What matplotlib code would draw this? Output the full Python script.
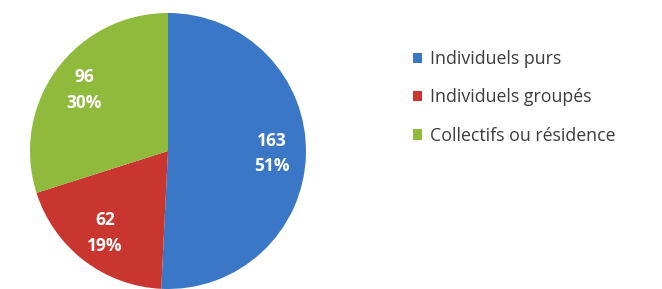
import matplotlib.pyplot as plt

categories = ["Individuels purs", "Individuels groupés", "Collectifs ou résidence"]
values = [163, 62, 96]
colors = ["#3a77c6", "#c9352f", "#8fba3c"]

plt.rcParams['font.family'] = ['Open Sans', 'DejaVu Sans']

W, H = 662, 289
fig = plt.figure(figsize=(W / 100, H / 100), dpi=100)
cx, cy, r = 168, 151, 138
ax = fig.add_axes([(cx - r) / W, (H - cy - r) / H, 2 * r / W, 2 * r / H])

total = sum(values)


def fmt(pct):
    return "%d\n%d%%" % (round(pct * total / 100), round(pct))


wedges, texts, autotexts = ax.pie(values, colors=colors, startangle=90, counterclock=False,
                                  autopct=fmt, pctdistance=0.75, radius=1,
                                  wedgeprops=dict(linewidth=0),
                                  textprops=dict(color="white", fontsize=12.5, fontweight="bold"))
for t in autotexts:
    t.set_linespacing(1.55)
ax.set_xlim(-1, 1)
ax.set_ylim(-1, 1)
ax.set_aspect('equal')

leg = fig.legend(wedges, categories, loc="upper left", bbox_to_anchor=(397 / W, 1 - 34 / H),
                 frameon=False, fontsize=12.8, handlelength=0.52, handleheight=0.52,
                 handletextpad=0.45, labelspacing=1.15, labelcolor="#3c3c3c")

fig.savefig("out.png", dpi=100)
